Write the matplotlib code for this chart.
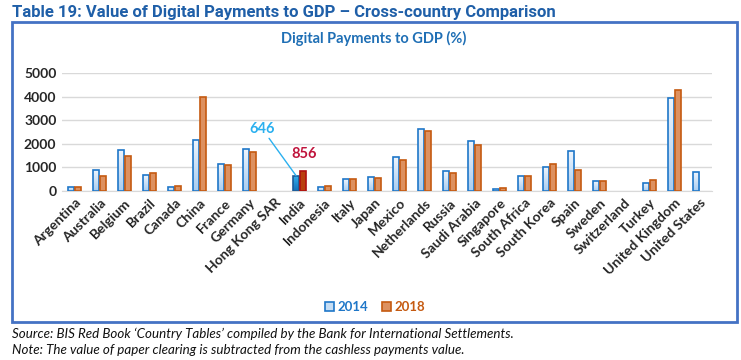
import numpy as np
import matplotlib.pyplot as plt
from matplotlib.patches import Rectangle
from matplotlib.colors import LinearSegmentedColormap

countries = ["Argentina", "Australia", "Belgium", "Brazil", "Canada", "China",
             "France", "Germany", "Hong Kong SAR", "India", "Indonesia", "Italy",
             "Japan", "Mexico", "Netherlands", "Russia", "Saudi Arabia",
             "Singapore", "South Africa", "South Korea", "Spain", "Sweden",
             "Switzerland", "Turkey", "United Kingdom", "United States"]
v2014 = [170, 880, 1730, 665, 155, 2150, 1130, 1770, 0, 646, 155, 500,
         580, 1430, 2620, 835, 2110, 70, 620, 1005, 1685, 410, 0, 325, 3940, 795]
v2018 = [170, 640, 1470, 750, 200, 3990, 1090, 1640, 0, 856, 200, 500,
         540, 1300, 2535, 750, 1940, 115, 620, 1130, 880, 410, 0, 450, 4280, 0]
highlight = "India"
yticks = [0, 1000, 2000, 3000, 4000, 5000]

plt.rcParams['font.family'] = ['Lato', 'DejaVu Sans']

fig = plt.figure(figsize=(7.41, 3.60), dpi=100)

# outer frame of the chart box
fig.patches.append(Rectangle((12 / 741, 1 - 322 / 360), 725 / 741, 300 / 360,
                             transform=fig.transFigure, fill=False,
                             edgecolor='#4472c4', linewidth=2))

ax = fig.add_axes([62 / 741, 1 - 191 / 360, 650 / 741, 118 / 360])

x = np.arange(len(countries))
w = 0.25
off = 0.135
hi = countries.index(highlight)

blue_cmap = LinearSegmentedColormap.from_list('b', ['#a9cdf0', '#eef5fd'])
india_cmap = LinearSegmentedColormap.from_list('bi', ['#1670b8', '#35b0ee'])
grad = np.linspace(0, 1, 64).reshape(-1, 1)

bars14 = ax.bar(x - off, v2014, w, facecolor='none', edgecolor='#1f77c8',
                linewidth=1.2, zorder=3, label='2014')
bars18 = ax.bar(x + off, v2018, w, facecolor='#dd9160', edgecolor='#c55a11',
                linewidth=1.2, zorder=3, label='2018')

for i, b in enumerate(bars14):
    if b.get_height() <= 0:
        b.set_visible(False)
        continue
    cm = india_cmap if i == hi else blue_cmap
    if i == hi:
        b.set_edgecolor('#1c5c99')
    im = ax.imshow(grad, cmap=cm, origin='lower', aspect='auto', zorder=2,
                   extent=[b.get_x(), b.get_x() + b.get_width(), 0, b.get_height()])
    im.set_clip_path(b)
for i, b in enumerate(bars18):
    if b.get_height() <= 0:
        b.set_visible(False)
    if i == hi:
        b.set_facecolor('#b8400e')
        b.set_edgecolor('#b01010')

ax.set_xlim(-0.5, len(countries) - 0.5)
ax.set_ylim(0, 5000)
ax.set_yticks(yticks)
ax.set_yticklabels([str(t) for t in yticks], fontsize=10, fontweight='bold', color='#262626')
ax.set_xticks(x)
ax.set_xticklabels(countries, rotation=45, ha='right', rotation_mode='anchor',
                   fontsize=10, fontweight='bold', color='#262626')
ax.tick_params(axis='both', length=0, pad=4)
ax.grid(axis='y', color='#d9d9d9', linewidth=1, zorder=0)
for s in ['top', 'right', 'left']:
    ax.spines[s].set_visible(False)
ax.spines['bottom'].set_color('#d9d9d9')
ax.set_axisbelow(True)

# India labels
ax.annotate(str(v2014[hi]), xy=(hi - off, v2014[hi]), xytext=(hi - 1.5, 2350),
            ha='center', va='bottom', fontsize=10.5, fontweight='bold', color='#2bb0ef',
            arrowprops=dict(arrowstyle='-', color='#2bb0ef', lw=1, shrinkA=0, shrinkB=0))
ax.text(hi + 0.2, 1250, str(v2018[hi]), ha='center', va='bottom',
        fontsize=10.5, fontweight='bold', color='#c0143c')

fig.text(12 / 741, 1 - 13 / 360, "Table 19: Value of Digital Payments to GDP \u2013 Cross-country Comparison",
         family=['Roboto', 'DejaVu Sans'], fontsize=12, fontweight='bold',
         color='#1f5fa8', va='center')
fig.text(374 / 741, 1 - 38 / 360, "Digital Payments to GDP (%)", ha='center', va='center',
         fontsize=10.5, fontweight='bold', color='#1f6fb5')

leg = fig.legend(handles=[bars14, bars18], labels=['2014', '2018'], loc='center',
                 bbox_to_anchor=(375 / 741, 1 - 307 / 360), ncol=2, frameon=False,
                 handlelength=0.7, handleheight=0.7, handletextpad=0.3, columnspacing=1.0,
                 prop={'size': 9.5, 'weight': 'bold'})
leg.legend_handles[0].set_facecolor('#c5ddf4')
leg.legend_handles[0].set_edgecolor('#1f77c8')
leg.legend_handles[1].set_facecolor('#dd9160')
leg.legend_handles[1].set_edgecolor('#c55a11')
leg.get_texts()[0].set_color('#1f77c8')
leg.get_texts()[1].set_color('#c55a11')

fig.text(12 / 741, 1 - 334 / 360,
         "Source: BIS Red Book \u2018Country Tables\u2019 compiled by the Bank for International Settlements.",
         fontsize=9.6, style='italic', va='center', color='#111111')
fig.text(12 / 741, 1 - 350 / 360,
         "Note: The value of paper clearing is subtracted from the cashless payments value.",
         fontsize=9.6, style='italic', va='center', color='#111111')

fig.savefig("out.png", dpi=100)
